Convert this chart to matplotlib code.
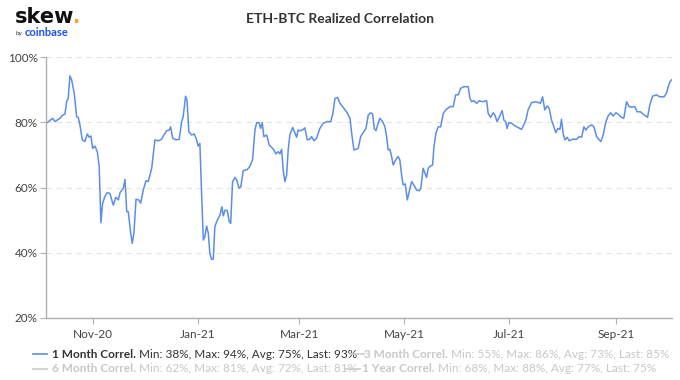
import matplotlib
matplotlib.use("Agg")
import matplotlib.pyplot as plt
import matplotlib.dates as mdates
from matplotlib.lines import Line2D
import pandas as pd

plt.rcParams['font.family'] = ['Lato', 'DejaVu Sans']

# ---- data ----
start_date = "2020-10-01"
days = [4.6, 7.8, 9.1, 12.0, 13.6, 14.9, 15.9, 16.8, 17.8, 18.8, 20.3, 21.7, 22.6, 23.6,
        25.0, 26.5, 27.9, 29.0, 30.0, 31.0, 32.3, 33.7, 34.8, 35.8, 36.8, 38.1, 39.5, 41.0,
        43.0, 44.5, 45.9, 46.9, 48.8, 49.8, 50.8, 51.7, 53.1, 54.0, 55.0, 56.2, 57.7, 58.9,
        60.4, 62.0, 63.3, 65.3, 67.2, 69.1, 71.1, 72.4, 74.0, 75.5, 76.3, 77.5, 79.4, 81.3,
        82.7, 83.6, 85.0, 85.8, 86.9, 88.5, 90.0, 91.4, 92.3, 93.3, 94.3, 95.3, 96.2, 97.2,
        98.2, 99.1, 100.1, 101.1, 102.0, 103.4, 105.0, 106.1, 106.9, 108.0, 109.2, 110.4,
        111.2, 112.3, 113.7, 114.7, 116.0, 117.1, 118.5, 120.5, 122.0, 123.9, 125.3, 126.3,
        127.6, 128.6, 129.5, 130.5, 132.1, 133.6, 135.0, 136.3, 137.5, 138.8, 139.8, 140.8,
        141.7, 142.7, 143.7, 144.6, 145.6, 147.2, 148.5, 149.5, 150.4, 151.8, 153.3, 154.3,
        155.7, 157.2, 158.2, 159.6, 161.1, 163.0, 165.0, 167.3, 169.3, 170.4, 171.8, 173.3,
        174.7, 176.2, 177.6, 178.9, 180.5, 181.5, 182.8, 185.3, 186.7, 188.2, 189.8, 191.1,
        192.5, 193.7, 194.6, 195.6, 196.6, 197.9, 199.5, 200.8, 201.8, 202.7, 203.7, 204.7,
        205.6, 207.0, 208.5, 209.5, 210.5, 211.4, 212.6, 213.8, 214.9, 216.3, 217.6, 219.2,
        220.7, 221.7, 223.0, 224.0, 225.0, 226.0, 227.3, 228.5, 229.3, 230.4, 231.8, 233.2,
        234.7, 236.2, 238.6, 240.5, 241.9, 243.4, 244.8, 246.7, 249.2, 250.2, 251.2, 252.5,
        254.1, 255.6, 257.6, 259.9, 260.8, 262.2, 263.7, 264.7, 266.0, 267.2, 268.9, 269.9,
        270.9, 271.8, 272.8, 274.4, 276.3, 278.2, 280.2, 281.5, 282.7, 284.0, 286.0, 288.5,
        291.2, 292.4, 293.7, 295.1, 296.2, 297.6, 298.6, 300.1, 301.3, 302.5, 303.4, 304.4,
        305.4, 306.7, 307.9, 309.8, 312.2, 313.7, 315.1, 316.4, 317.6, 318.9, 320.9, 322.2,
        323.8, 325.3, 326.3, 327.6, 329.2, 330.5, 331.9, 333.4, 335.0, 336.3, 338.3, 339.6,
        341.2, 342.7, 344.1, 346.0, 347.4, 349.3, 350.8, 352.4, 353.4, 354.7, 356.3, 358.6,
        360.5, 363.0, 364.4, 365.4, 366.4, 367.3]
corr_1m = [79.9, 81.2, 80.2, 81.2, 82.2, 82.5, 86.3, 87.3, 94.2, 93.0, 88.9, 81.7, 81.5, 79.2,
           74.6, 74.1, 76.4, 75.4, 75.8, 72.0, 72.7, 71.0, 66.4, 49.2, 55.2, 57.2, 58.4, 58.2,
           54.6, 57.0, 56.2, 58.4, 59.8, 62.5, 52.6, 52.6, 46.0, 42.9, 46.0, 56.4, 56.2, 55.2,
           59.2, 62.1, 61.8, 65.9, 74.6, 74.3, 74.8, 76.1, 77.4, 77.6, 78.6, 75.1, 74.6, 74.8,
           80.2, 81.7, 88.0, 86.8, 77.1, 76.1, 76.4, 74.6, 72.7, 73.5, 58.2, 43.9, 44.9, 48.2,
           46.0, 39.8, 38.0, 38.0, 48.0, 50.0, 51.6, 54.1, 51.3, 53.1, 52.9, 49.5,
           49.0, 61.8, 63.1, 62.3, 59.8, 60.3, 65.2, 65.4, 66.2, 68.4, 77.6, 79.9,
           79.9, 78.1, 79.9, 75.6, 76.1, 73.0, 72.3, 71.5, 70.3, 71.0, 70.3, 71.7,
           65.4, 61.8, 63.8, 71.5, 76.1, 78.4, 76.8, 75.4, 77.6, 77.4, 77.8, 78.3,
           74.6, 74.8, 75.6, 74.3, 75.1, 78.1, 79.7, 80.2, 80.2, 82.2, 87.3, 87.6,
           85.8, 84.8, 83.8, 82.9, 81.2, 76.6, 71.5, 72.0, 75.6, 76.8, 78.1, 82.2,
           82.9, 82.5, 78.1, 77.4, 79.2, 81.2, 80.2, 78.6, 75.6, 71.5, 71.7, 69.5,
           66.9, 68.4, 69.5, 68.4, 63.8, 60.8, 61.1, 56.2, 58.7, 61.8, 60.8, 59.2,
           59.0, 59.8, 65.9, 64.5, 63.1, 65.9, 66.6, 66.9, 72.5, 76.6, 78.6, 78.6,
           82.7, 83.8, 84.8, 84.8, 88.4, 88.4, 90.4, 90.9, 90.9, 87.3, 86.3, 86.6,
           85.8, 86.6, 86.3, 86.6, 82.7, 81.5, 82.9, 82.2, 80.2, 81.5, 83.6, 80.7,
           80.2, 78.1, 79.9, 79.7, 78.9, 78.4, 77.8, 79.2, 80.7, 83.8, 86.0, 86.3,
           85.8, 87.8, 83.8, 85.0, 84.3, 80.7, 79.2, 76.8, 78.1, 77.8, 80.9, 76.4,
           74.6, 75.4, 74.3, 74.8, 74.8, 75.6, 75.4, 78.6, 77.6, 78.6, 79.2, 78.6,
           75.6, 74.6, 74.1, 76.1, 80.2, 81.9, 82.9, 81.9, 82.9, 82.5, 81.5, 81.2,
           86.3, 84.8, 84.6, 84.8, 83.2, 83.2, 82.5, 81.9, 81.5, 85.3, 88.0, 88.4,
           87.8, 87.8, 88.9, 90.9, 92.4, 93.0]

x_tick_dates = ["2020-11-01", "2021-01-01", "2021-03-01", "2021-05-01", "2021-07-01", "2021-09-01"]
y_ticks = [20, 40, 60, 80, 100]

legend_items = [
    ("1 Month Correl.", "Min: 38%, Max: 94%, Avg: 75%, Last: 93%", True),
    ("3 Month Correl.", "Min: 55%, Max: 86%, Avg: 73%, Last: 85%", False),
    ("6 Month Correl.", "Min: 62%, Max: 81%, Avg: 72%, Last: 81%", False),
    ("1 Year Correl.", "Min: 68%, Max: 88%, Avg: 77%, Last: 75%", False),
]

# ---- figure ----
W, H = 680, 380
fig = plt.figure(figsize=(W / 100, H / 100), dpi=100)
ax = fig.add_axes([46 / W, 1 - 318 / H, (672 - 46) / W, (318 - 57) / H])

dates = pd.Timestamp(start_date) + pd.to_timedelta(days, unit="D")
line_color = "#5b8ee8"
ax.plot(dates, corr_1m, color=line_color, lw=1.1)

t0 = pd.Timestamp(start_date)
ax.set_xlim(t0 + pd.Timedelta(days=3.9), t0 + pd.Timedelta(days=367.6))
ax.set_ylim(20, 100)
ax.set_yticks(y_ticks)
ax.set_yticklabels([f"{v}%" for v in y_ticks])
ax.set_xticks(pd.to_datetime(x_tick_dates))
ax.xaxis.set_major_formatter(mdates.DateFormatter("%b-%y"))

for v in y_ticks[1:]:
    ax.axhline(v, color="#e3e3e3", lw=0.8, ls=(0, (5, 4)), zorder=0)

for s in ["top", "right"]:
    ax.spines[s].set_visible(False)
ax.spines["left"].set_color("#b0b0b0")
ax.spines["bottom"].set_color("#b0b0b0")
ax.spines["left"].set_linewidth(1.0)
ax.spines["bottom"].set_linewidth(1.0)
ax.tick_params(axis="y", length=4, color="#b0b0b0", labelsize=8.5, labelcolor="#444444", pad=2)
ax.tick_params(axis="x", length=4, color="#b0b0b0", labelsize=8.5, labelcolor="#444444", pad=4)

# ---- title & logo ----
fig.text(340 / W, 1 - 19 / H, "ETH-BTC Realized Correlation", ha="center", va="center",
         fontsize=10, fontweight="bold", color="#333333")
fig.text(15 / W, 1 - 23 / H, "skew", ha="left", va="baseline", fontsize=15,
         fontweight="bold", color="#111111", family=["DejaVu Sans"])
fig.text(73 / W, 1 - 23 / H, ".", ha="left", va="baseline", fontsize=14, fontweight="bold",
         color="#f5a623", family=["DejaVu Sans"])
fig.text(16 / W, 1 - 33 / H, "by", ha="left", va="center", fontsize=4.5, color="#333333")
fig.text(25 / W, 1 - 33 / H, "coinbase", ha="left", va="center", fontsize=8,
         fontweight="bold", color="#1652f0")

# ---- legend ----
rows = [(354, 33, 52), (354, 350, 364), (369, 33, 52), (369, 346, 362)]
for (name, stats, active), (yy, mx, tx) in zip(legend_items, rows):
    c_name = "#333333" if active else "#c8c8c8"
    c_line = line_color if active else "#cccccc"
    fig.add_artist(Line2D([mx / W, (mx + 14) / W], [1 - yy / H, 1 - yy / H],
                          color=c_line, lw=1.2, transform=fig.transFigure))
    t1 = fig.text(tx / W, 1 - yy / H, name, ha="left", va="center", fontsize=8.5,
                  fontweight="bold", color=c_name)
    ax.annotate(" " + stats, xy=(1, 0.5), xycoords=t1, ha="left", va="center",
                fontsize=8.5, color=c_name, annotation_clip=False)

fig.savefig("out.png", dpi=100)
